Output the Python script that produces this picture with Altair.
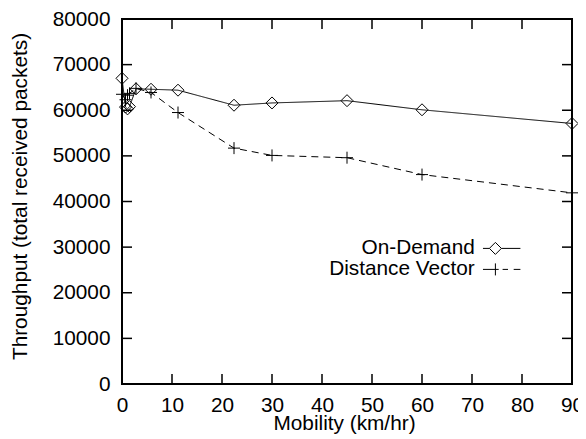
import altair as alt
import pandas as pd

# ---- data ----
speed = [0, 0.7, 1.1, 1.5, 2.8, 5.8, 11.2, 22.4, 30, 45, 60, 90]
on_demand = [67000, 60700, 60300, 60800, 64700, 64600, 64400, 61100, 61600, 62100, 60100, 57100]
distance_vector = [63500, 62300, 63300, 63700, 64800, 63900, 59500, 51700, 50100, 49600, 45900, 41900]
series_names = ["On-Demand", "Distance Vector"]
x_ticks = [0, 10, 20, 30, 40, 50, 60, 70, 80, 90]
y_ticks = [0, 10000, 20000, 30000, 40000, 50000, 60000, 70000, 80000]

df = pd.DataFrame({
    "speed": speed + speed,
    "value": on_demand + distance_vector,
    "series": [series_names[0]] * len(speed) + [series_names[1]] * len(speed),
})
xt = pd.DataFrame({"speed": x_ticks})
yt = pd.DataFrame({"value": y_ticks})

FONT = "Liberation Sans"
FS = 20.8
W, H = 450, 365

x_scale = alt.Scale(domain=[0, 90], nice=False, zero=False)
y_scale = alt.Scale(domain=[0, 80000], nice=False)

x_axis = alt.Axis(values=x_ticks, format="d", title="Mobility (km/hr)", ticks=False, tickSize=0,
                  domain=False, grid=False, labelPadding=27.5, labelBaseline="alphabetic",
                  labelFlush=False, labelOverlap=False, titleBaseline="alphabetic", titleY=45,
                  titleX=222)
y_axis = alt.Axis(values=y_ticks, format="d", title="Throughput (total received packets)", ticks=False,
                  tickSize=0, domain=False, grid=False, labelPadding=12, labelOverlap=False,
                  titleBaseline="alphabetic", titleX=-95.6, titleY=177, titleAngle=270)

X = alt.X("speed:Q", scale=x_scale, axis=x_axis)
Y = alt.Y("value:Q", scale=y_scale, axis=y_axis)

lines = alt.Chart(df).mark_line(color="black", strokeWidth=1).encode(
    x=X, y=Y,
    strokeDash=alt.StrokeDash("series:N", scale=alt.Scale(domain=series_names, range=[[1, 0], [7, 5]]),
                              legend=None),
)

points = alt.Chart(df).mark_point(filled=False, size=144, strokeWidth=1, color="black", opacity=1).encode(
    x=X, y=Y,
    shape=alt.Shape("series:N", scale=alt.Scale(domain=series_names,
                                                range=["diamond", "M-1,0L1,0M0,-1L0,1"]),
                    legend=None),
)

legend_paths = [
    "M-2.07,0L-1,0M1,0L4.17,0M-1,0L0,-1L1,0L0,1Z",
    "M-2.07,0L0.55,0M1.2,0L2.1,0M3.05,0L4.17,0M0,-1L0,1",
]
legend_layer = alt.Chart(df).mark_point(filled=False, size=144, strokeWidth=1, color="black", opacity=0).encode(
    x=X, y=Y,
    shape=alt.Shape("series:N", scale=alt.Scale(domain=series_names, range=legend_paths),
                    legend=alt.Legend(orient="none", legendX=363, legendY=219, title=None,
                                      labelAlign="right", labelOffset={"expr": "-31"}, labelFont=FONT,
                                      labelFontSize=FS, labelColor="black", labelLimit=400,
                                      symbolSize=144, symbolStrokeColor="black",
                                      symbolFillColor="transparent", symbolStrokeWidth=1,
                                      symbolOpacity=1, rowPadding={"expr": "-9"}, padding=0)),
)

xticks_bottom = alt.Chart(xt).mark_rule(color="black", strokeWidth=1.5).encode(
    x=X, y=alt.value(H), y2=alt.value(H - 10))
xticks_top = alt.Chart(xt).mark_rule(color="black", strokeWidth=1.5).encode(
    x=X, y=alt.value(0), y2=alt.value(10))
yticks_left = alt.Chart(yt).mark_rule(color="black", strokeWidth=1.5).encode(
    y=Y, x=alt.value(0), x2=alt.value(10))
yticks_right = alt.Chart(yt).mark_rule(color="black", strokeWidth=1.5).encode(
    y=Y, x=alt.value(W), x2=alt.value(W - 10))

chart = alt.layer(
    xticks_bottom, xticks_top, yticks_left, yticks_right, lines, points, legend_layer
).resolve_scale(shape="independent").properties(
    width=W, height=H,
    autosize=alt.AutoSizeParams(type="none"),
    padding={"left": 114, "top": 11, "right": 6, "bottom": 50},
    background="white",
).configure_view(
    stroke="black", strokeWidth=2
).configure_axis(
    labelFont=FONT, labelFontSize=FS, labelColor="black",
    titleFont=FONT, titleFontSize=FS, titleColor="black", titleFontWeight="normal",
)

chart.save("out.html", embed_options={"renderer": "svg", "actions": False})
